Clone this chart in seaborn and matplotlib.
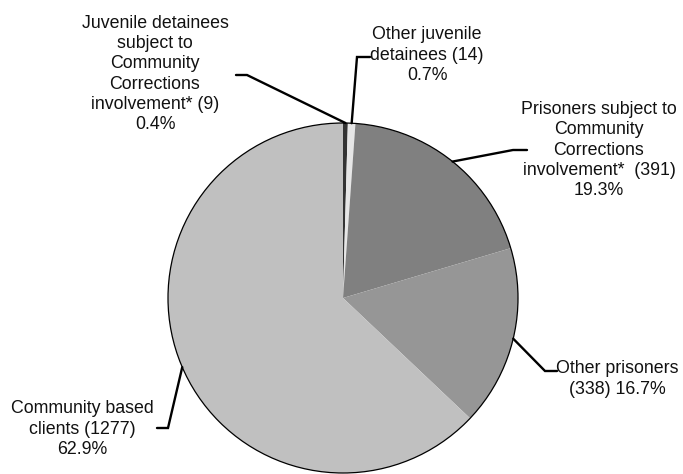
import numpy as np
import matplotlib
matplotlib.use("Agg")
import matplotlib.pyplot as plt
import seaborn as sns

# slice data, clockwise from 12 o'clock
categories = [
    "Juvenile detainees\nsubject to\nCommunity\nCorrections\ninvolvement* (9)",
    "Other juvenile\ndetainees (14)",
    "Prisoners subject to\nCommunity\nCorrections\ninvolvement*  (391)",
    "Other prisoners\n(338)",
    "Community based\nclients (1277)",
]
counts = [9, 14, 391, 338, 1277]
percent_labels = ["0.4%", "0.7%", "19.3%", "16.7%", "62.9%"]
colors = ["#333333", "#e6e6e6", "#808080", "#969696", "#c0c0c0"]

sns.set_style("white")
plt.rcParams["font.family"] = ["Liberation Sans", "DejaVu Sans"]

W, H = 683, 474
fig = plt.figure(figsize=(W / 100, H / 100), dpi=100)
ax = fig.add_axes([0, 0, 1, 1])

cx, cy, r = 343, H - 298, 175
wedges, _ = ax.pie(counts, colors=colors, startangle=90, counterclock=False,
                   center=(cx, cy), radius=r, frame=True,
                   wedgeprops=dict(linewidth=0))
ax.set_xlim(0, W)
ax.set_ylim(0, H)
ax.set_aspect("equal")
ax.axis("off")
ax.add_patch(plt.Circle((cx, cy), r, fill=False, lw=0.9, color="black"))

# label layout in pixels from top-left
layout = [
    dict(tx=155, ty=74, elbow=(247, 75), end=(236, 75)),
    dict(tx=427, ty=55, elbow=(357, 57), end=(370, 57)),
    dict(tx=599, ty=150, elbow=(513, 150), end=(527, 150)),
    dict(tx=617, ty=379, elbow=(545, 371), end=(557, 371)),
    dict(tx=82, ty=429, elbow=(168, 428), end=(157, 428)),
]

for w, cat, pct, lay in zip(wedges, categories, percent_labels, layout):
    mid = np.deg2rad((w.theta1 + w.theta2) / 2)
    sx, sy = cx + r * np.cos(mid), cy + r * np.sin(mid)
    ex, ey = lay["elbow"]
    hx, hy = lay["end"]
    ax.plot([sx, ex, hx], [sy, H - ey, H - hy], color="black", lw=1.7,
            solid_joinstyle="miter", zorder=5)
    sep = " " if pct == "16.7%" else "\n"
    ax.text(lay["tx"], H - lay["ty"], cat + sep + pct, ha="center",
            va="center", fontsize=12.8, linespacing=1.24, color="#111111")

fig.savefig("out.png", dpi=100, facecolor="white")
